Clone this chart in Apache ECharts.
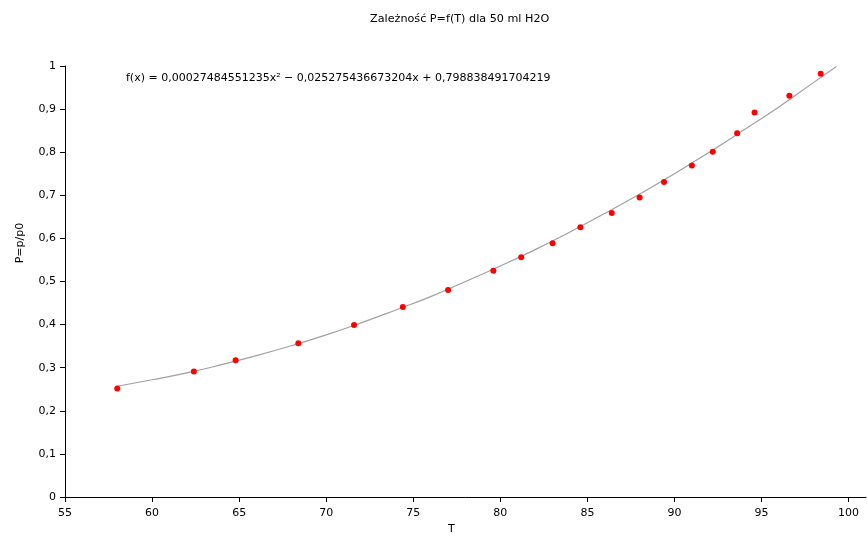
<!DOCTYPE html>
<html>
<head>
<meta charset="utf-8">
<script src="https://cdn.jsdelivr.net/npm/echarts@6/dist/echarts.min.js"></script>
<style>html,body{margin:0;padding:0;background:#fff}#c{width:867px;height:548px}</style>
</head>
<body>
<div id="c"></div>
<script>
// Measured points (T, P=p/p0)
var tValues = [58.0, 62.4, 64.8, 68.4, 71.6, 74.4, 77.0, 79.6, 81.2, 83.0, 84.6, 86.4, 88.0, 89.4, 91.0, 92.2, 93.6, 94.6, 96.6, 98.4];
var pValues = [0.252, 0.291, 0.317, 0.357, 0.399, 0.441, 0.480, 0.525, 0.556, 0.589, 0.626, 0.659, 0.695, 0.731, 0.769, 0.801, 0.844, 0.892, 0.931, 0.982];
// Trend line
var trendT = [58, 60, 62, 64, 66, 68, 70, 72, 74, 76, 78, 80, 82, 84, 86, 88, 90, 92, 94, 96, 98, 99.3];
var trendP = [0.257, 0.272, 0.288, 0.307, 0.328, 0.351, 0.376, 0.404, 0.434, 0.465, 0.500, 0.536, 0.574, 0.615, 0.658, 0.703, 0.750, 0.800, 0.852, 0.905, 0.962, 0.999];
var xTicks = [55, 60, 65, 70, 75, 80, 85, 90, 95, 100];
var yTicks = [0, 0.1, 0.2, 0.3, 0.4, 0.5, 0.6, 0.7, 0.8, 0.9, 1];
var titleText = 'Zależność P=f(T) dla 50 ml H2O';
var formulaText = 'f(x) = 0,00027484551235x² − 0,025275436673204x + 0,798838491704219';
var xName = 'T';
var yName = 'P=p/p0';

var font = 'DejaVu Sans';
function fmt(v){ return (Math.round(v*10)/10).toString().replace('.', ','); }
function zip(a,b){ return a.map(function(v,i){ return [v,b[i]]; }); }

var chart = echarts.init(document.getElementById('c'), null, {renderer:'canvas'});
chart.setOption({
  animation:false,
  backgroundColor:'#fff',
  textStyle:{fontFamily:font},
  grid:{left:65, right:1, top:66, bottom:51, containLabel:false},
  xAxis:{
    type:'value', min:xTicks[0], max:101, interval:5,
    splitLine:{show:false},
    axisLine:{lineStyle:{color:'#000', width:1}},
    axisTick:{length:5, lineStyle:{color:'#000'}, customValues: xTicks},
    axisLabel:{color:'#000', fontSize:11, fontFamily:font, margin:11, formatter:fmt, customValues: xTicks}
  },
  yAxis:{
    type:'value', min:yTicks[0], max:yTicks[yTicks.length-1], interval:0.1,
    splitLine:{show:false},
    axisLine:{show:true, lineStyle:{color:'#000', width:1}},
    axisTick:{show:true, length:5, lineStyle:{color:'#000'}},
    axisLabel:{color:'#000', fontSize:11, fontFamily:font, margin:9, formatter:fmt}
  },
  series:[
    {type:'line', data:zip(trendT, trendP), showSymbol:false, smooth:true, lineStyle:{color:'#a0a0a0', width:1.2}, z:2},
    {type:'scatter', data:zip(tValues, pValues), symbol:'circle', symbolSize:6, itemStyle:{color:'#ff0000', opacity:1}, z:3}
  ],
  graphic:[
    {type:'text', left:370, top:14, style:{text:titleText, fontSize:11.2, fontFamily:font, fill:'#000'}},
    {type:'text', left:126, top:73, style:{text:formulaText, fontSize:11, fontFamily:font, fill:'#000'}},
    {type:'text', left:448, top:524, style:{text:xName, fontSize:11, fontFamily:font, fill:'#000'}},
    {type:'text', x:15, y:243, rotation:Math.PI/2, style:{text:yName, fontSize:11, fontFamily:font, fill:'#000', align:'center', verticalAlign:'top'}}
  ]
});
</script>
</body>
</html>
